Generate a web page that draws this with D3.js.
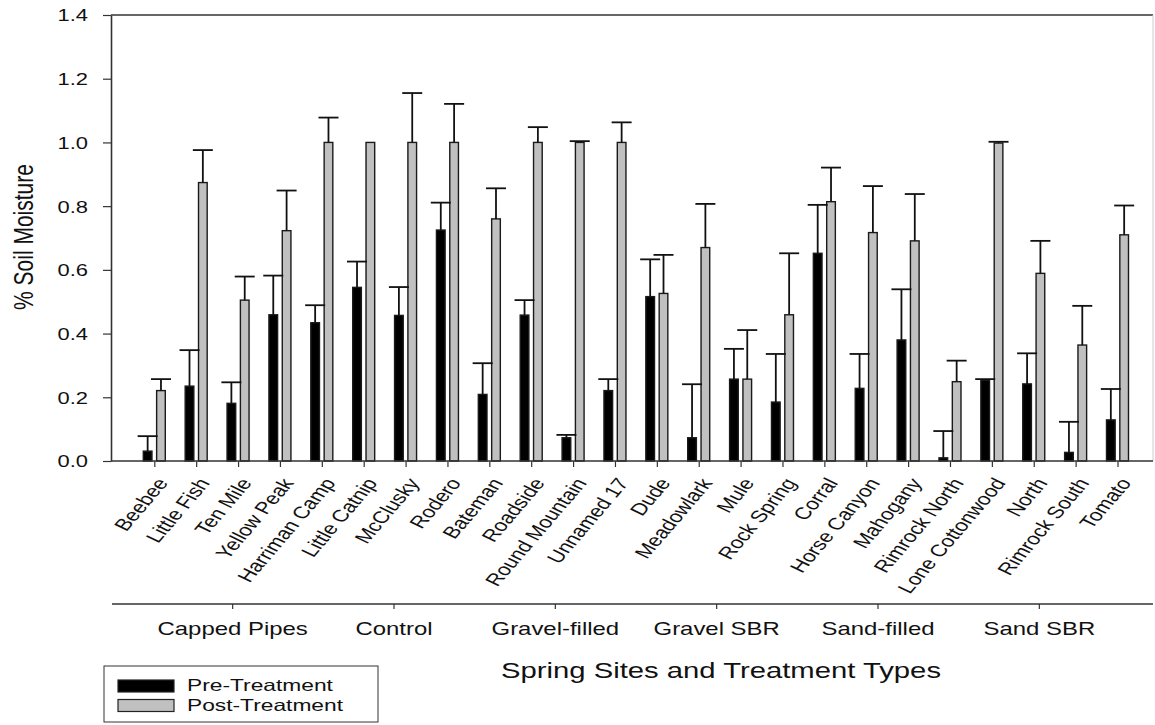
<!DOCTYPE html>
<html>
<head>
<meta charset="utf-8">
<script src="https://cdn.jsdelivr.net/npm/d3@7"></script>
<style>
  body { margin: 0; background: #fff; }
  text { font-family: "Liberation Sans", Arial, sans-serif; fill: #111; }
</style>
</head>
<body>
<div id="chart-area"></div>
<script>
// site names, in plot order
const SITES = ["Beebee", "Little Fish", "Ten Mile", "Yellow Peak", "Harriman Camp", "Little Catnip",
  "McClusky", "Rodero", "Bateman", "Roadside", "Round Mountain", "Unnamed 17", "Dude", "Meadowlark",
  "Mule", "Rock Spring", "Corral", "Horse Canyon", "Mahogany", "Rimrock North", "Lone Cottonwood",
  "North", "Rimrock South", "Tomato"]

const GROUPS = ["Capped Pipes", "Control", "Gravel-filled", "Gravel SBR", "Sand-filled", "Sand SBR"]

const SERIES = ["Pre-Treatment", "Post-Treatment"]

const PRE = [0.031, 0.235, 0.181, 0.459, 0.434, 0.545, 0.457, 0.725, 0.209, 0.458, 0.073, 0.221,
  0.516, 0.073, 0.257, 0.185, 0.652, 0.228, 0.380, 0.010, 0.254, 0.242, 0.027, 0.129]
const PRE_ERR = [0.047, 0.113, 0.066, 0.123, 0.055, 0.081, 0.089, 0.086, 0.098, 0.047, 0.009, 0.036,
  0.117, 0.168, 0.095, 0.151, 0.152, 0.108, 0.159, 0.084, 0.003, 0.096, 0.096, 0.097]

const POST = [0.221, 0.874, 0.505, 0.723, 1.0, 1.0, 1.0, 1.0, 0.760, 1.0, 1.0, 1.0,
  0.526, 0.670, 0.257, 0.459, 0.814, 0.717, 0.691, 0.249, 0.998, 0.589, 0.364, 0.710]
const POST_ERR = [0.036, 0.102, 0.074, 0.126, 0.078, 0, 0.155, 0.121, 0.096, 0.048, 0.004, 0.063,
  0.121, 0.137, 0.154, 0.193, 0.107, 0.146, 0.147, 0.066, 0.004, 0.102, 0.123, 0.092]

const Y_TICKS = [0, 0.2, 0.4, 0.6, 0.8, 1.0, 1.2, 1.4]

const COLORS = {"Pre-Treatment": "#000", "Post-Treatment": "#c0c0c0"}

// the source picture is stretched sideways, so text is widened to match
const SX = 1.33

const W = 1155, H = 725
const PLOT = {LEFT: 111, RIGHT: 1153, TOP: 15, BOTTOM: 461}

const data = SITES.map((s, i) => ({
  site: s,
  vals: [
    {key: SERIES[0], v: PRE[i], e: PRE_ERR[i]},
    {key: SERIES[1], v: POST[i], e: POST_ERR[i]}
  ]
}))

const svg = d3.select("#chart-area").append("svg")
  .attr("width", W)
  .attr("height", H)

const x0 = d3.scalePoint()
  .domain(SITES)
  .range([154.3, 1117.5])

const x1 = d3.scaleBand()
  .domain(SERIES)
  .range([-11, 11])
  .paddingInner(0.35)

const y = d3.scaleLinear()
  .domain([0, 1.4])
  .range([PLOT.BOTTOM, PLOT.TOP])

const xg = d3.scaleBand()
  .domain(GROUPS)
  .range([152, 1120])

// frame: top line and faint right edge
svg.append("line")
  .attr("x1", PLOT.LEFT).attr("x2", PLOT.RIGHT)
  .attr("y1", PLOT.TOP).attr("y2", PLOT.TOP)
  .attr("stroke", "#333").attr("stroke-width", 1.6)
svg.append("line")
  .attr("x1", PLOT.RIGHT).attr("x2", PLOT.RIGHT)
  .attr("y1", PLOT.TOP).attr("y2", PLOT.BOTTOM)
  .attr("stroke", "#ccc").attr("stroke-width", 1)

// bars
const site = svg.selectAll("g.site")
  .data(data)
  .enter().append("g")
  .attr("class", "site")
  .attr("transform", d => `translate(${x0(d.site)}, 0)`)

site.selectAll("rect")
  .data(d => d.vals)
  .enter().append("rect")
  .attr("x", d => x1(d.key))
  .attr("width", x1.bandwidth())
  .attr("y", d => y(d.v))
  .attr("height", d => y(0) - y(d.v))
  .attr("fill", d => COLORS[d.key])
  .attr("stroke", "#1a1a1a")
  .attr("stroke-width", 1.4)

// error bars (upper only)
const err = site.selectAll("g.err")
  .data(d => d.vals.filter(v => v.e > 0))
  .enter().append("g")
  .attr("class", "err")
  .attr("stroke", "#111")
  .attr("stroke-width", 1.8)

err.append("line")
  .attr("x1", d => x1(d.key) + x1.bandwidth() / 2)
  .attr("x2", d => x1(d.key) + x1.bandwidth() / 2)
  .attr("y1", d => y(d.v))
  .attr("y2", d => y(d.v + d.e))

err.append("line")
  .attr("x1", d => x1(d.key) + x1.bandwidth() / 2 - 10)
  .attr("x2", d => x1(d.key) + x1.bandwidth() / 2 + 10)
  .attr("y1", d => y(d.v + d.e))
  .attr("y2", d => y(d.v + d.e))

// Y Axis
const yAxis = svg.append("g")
  .attr("transform", `translate(${PLOT.LEFT}, 0)`)
  .call(d3.axisLeft(y).tickValues(Y_TICKS).tickFormat(d3.format(".1f")).tickSize(8).tickSizeOuter(0))
yAxis.select(".domain").attr("stroke", "#333").attr("stroke-width", 1.6)
yAxis.selectAll(".tick line").attr("stroke", "#333").attr("stroke-width", 1.2)
yAxis.selectAll(".tick text")
  .attr("x", 0)
  .attr("dy", "0.36em")
  .attr("transform", `translate(-23, 0) scale(${SX}, 1)`)
  .attr("font-size", "16.5px")
  .attr("fill", "#222")

// X Axis (sites)
const xAxis = svg.append("g")
  .attr("transform", `translate(0, ${PLOT.BOTTOM})`)
  .call(d3.axisBottom(x0).tickSize(6).tickSizeOuter(0))
xAxis.select(".domain")
  .attr("d", `M${PLOT.LEFT},0H${PLOT.RIGHT}`)
  .attr("stroke", "#333").attr("stroke-width", 1.6)
xAxis.selectAll(".tick line").attr("stroke", "#333").attr("stroke-width", 1.2)
xAxis.selectAll(".tick text")
  .attr("x", 0).attr("y", 0).attr("dy", 0)
  .attr("text-anchor", "end")
  .attr("transform", `translate(14, 22) scale(${SX}, 1) rotate(-57)`)
  .attr("font-size", "17px")
  .attr("fill", "#111")

// group axis
const gAxis = svg.append("g")
  .attr("transform", "translate(0, 604)")
  .call(d3.axisBottom(xg).tickSize(5).tickSizeOuter(0))
gAxis.select(".domain")
  .attr("d", `M${PLOT.LEFT + 1},0H${PLOT.RIGHT}`)
  .attr("stroke", "#333").attr("stroke-width", 1.6)
gAxis.selectAll(".tick line").attr("stroke", "#333").attr("stroke-width", 1.2)
gAxis.selectAll(".tick text")
  .attr("y", 0).attr("dy", 0)
  .attr("transform", `translate(0, 31) scale(${SX}, 1)`)
  .attr("font-size", "18px")
  .attr("fill", "#222")

// X label
svg.append("text")
  .attr("text-anchor", "middle")
  .attr("transform", `translate(721, 678) scale(${SX}, 1)`)
  .attr("font-size", "22px")
  .attr("fill", "#222")
  .text("Spring Sites and Treatment Types")

// Y label
svg.append("text")
  .attr("text-anchor", "middle")
  .attr("transform", `translate(33, 237) scale(${SX}, 1) rotate(-90)`)
  .attr("font-size", "21px")
  .attr("fill", "#222")
  .text("% Soil Moisture")

// legend
const legend = svg.append("g")
legend.append("rect")
  .attr("x", 104).attr("y", 666)
  .attr("width", 274).attr("height", 56)
  .attr("fill", "#fff").attr("stroke", "#333").attr("stroke-width", 1)

const item = legend.selectAll("g.item")
  .data(SERIES)
  .enter().append("g")
  .attr("class", "item")
  .attr("transform", (d, i) => `translate(0, ${i * 19.5})`)

item.append("rect")
  .attr("x", 118).attr("y", 680)
  .attr("width", 56).attr("height", 12)
  .attr("fill", d => COLORS[d])
  .attr("stroke", "#222").attr("stroke-width", 1.2)

item.append("text")
  .attr("transform", `translate(187, 691) scale(1.38, 1)`)
  .attr("font-size", "16.5px")
  .attr("fill", "#222")
  .text(d => d)
</script>
</body>
</html>
